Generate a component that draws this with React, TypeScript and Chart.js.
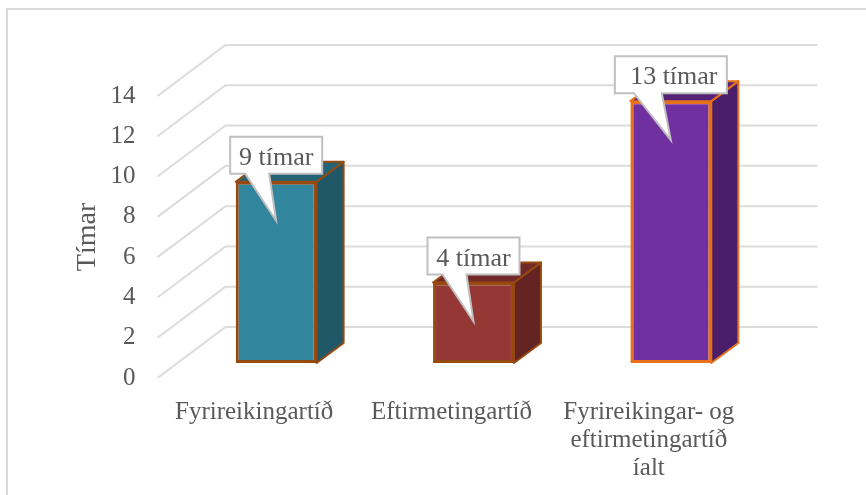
import React, { useEffect, useRef } from "react";
import { Chart, registerables } from "chart.js";

Chart.register(...registerables);

const categories = [
  "Fyrireikingartíð",
  "Eftirmetingartíð",
  ["Fyrireikingar- og", "eftirmetingartíð", "íalt"],
];
const hours = [9, 4, 13];
const calloutLabels = ["9 tímar", "4 tímar", "13 tímar"];
const frontColors = ["#31859C", "#953735", "#7030A0"];
const sideColors = ["#205867", "#632423", "#4A1E6B"];
const topColors = ["#256474", "#722A28", "#552478"];
const edgeColors = ["#974A10", "#974A10", "#E8701A"];
const FONT = "'Liberation Serif', serif";
const TEXT = "#595959";

const floorDepth = { dx: 68, dy: 51 };
const barShift = { dx: 20, dy: 15 };
const barDepth = { dx: 27, dy: 20 };

const scene = {
  id: "scene",
  beforeDraw(chart: any) {
    const { ctx, width, height } = chart;
    ctx.save();
    ctx.fillStyle = "#fff";
    ctx.fillRect(0, 0, width, height);
    ctx.strokeStyle = "#D9D9D9";
    ctx.lineWidth = 2;
    ctx.beginPath();
    ctx.moveTo(7, height);
    ctx.lineTo(7, 9);
    ctx.lineTo(width, 9);
    ctx.stroke();
    ctx.restore();
  },
  beforeDatasetsDraw(chart: any) {
    const { ctx, chartArea, scales } = chart;
    ctx.save();
    ctx.strokeStyle = "#DCDCDC";
    ctx.lineWidth = 2;
    for (const t of scales.y.ticks) {
      const y = scales.y.getPixelForValue(t.value);
      ctx.beginPath();
      ctx.moveTo(chartArea.left, y);
      ctx.lineTo(chartArea.left + floorDepth.dx, y - floorDepth.dy);
      ctx.lineTo(chartArea.right + floorDepth.dx, y - floorDepth.dy);
      ctx.stroke();
    }
    ctx.restore();
    ctx.save();
    ctx.translate(barShift.dx, -barShift.dy);
  },
  afterDatasetsDraw(chart: any) {
    const { ctx } = chart;
    ctx.restore();
    const bars = chart.getDatasetMeta(0).data;
    bars.forEach((bar: any, i: number) => {
      const halfW = bar.width / 2;
      const l = bar.x - halfW + barShift.dx;
      const r = bar.x + halfW + barShift.dx;
      const t = bar.y - barShift.dy;
      const b = bar.base - barShift.dy;
      const dx = barDepth.dx;
      const dy = barDepth.dy;
      ctx.save();
      ctx.lineJoin = "round";
      ctx.lineWidth = 2;
      ctx.strokeStyle = edgeColors[i];
      ctx.fillStyle = sideColors[i];
      ctx.beginPath();
      ctx.moveTo(r, t);
      ctx.lineTo(r + dx, t - dy);
      ctx.lineTo(r + dx, b - dy);
      ctx.lineTo(r, b);
      ctx.closePath();
      ctx.fill();
      ctx.stroke();
      ctx.fillStyle = topColors[i];
      ctx.beginPath();
      ctx.moveTo(l, t);
      ctx.lineTo(l + dx, t - dy);
      ctx.lineTo(r + dx, t - dy);
      ctx.lineTo(r, t);
      ctx.closePath();
      ctx.fill();
      ctx.stroke();
      ctx.restore();
    });
    bars.forEach((bar: any, i: number) => {
      const cx = bar.x + barShift.dx;
      const top = bar.y - barShift.dy;
      const text = calloutLabels[i];
      const wide = text.length > 7;
      const w = wide ? 112 : 92;
      const h = 37;
      const boxL = cx - w / 2;
      const boxT = top - 45;
      const boxB = boxT + h;
      const baseL = boxL + (wide ? 19 : 15);
      const baseR = boxL + (wide ? 47 : 39);
      const tipY = top + 39;
      ctx.save();
      ctx.fillStyle = "#fff";
      ctx.strokeStyle = "#BFBFBF";
      ctx.lineWidth = 2;
      ctx.lineJoin = "miter";
      ctx.beginPath();
      ctx.moveTo(boxL, boxT);
      ctx.lineTo(boxL + w, boxT);
      ctx.lineTo(boxL + w, boxB);
      ctx.lineTo(baseR, boxB);
      ctx.lineTo(cx, tipY);
      ctx.lineTo(baseL, boxB);
      ctx.lineTo(boxL, boxB);
      ctx.closePath();
      ctx.fill();
      ctx.stroke();
      ctx.fillStyle = TEXT;
      ctx.font = `26px ${FONT}`;
      ctx.textAlign = "center";
      ctx.textBaseline = "middle";
      ctx.fillText(text, cx + (wide ? 3 : 0), boxT + h / 2 + 3);
      ctx.restore();
    });
  },
};

export default function App() {
  const ref = useRef<HTMLCanvasElement>(null);
  useEffect(() => {
    const chart = new Chart(ref.current!, {
      type: "bar",
      data: {
        labels: categories as any,
        datasets: [
          {
            label: "Tímar",
            data: hours,
            backgroundColor: frontColors,
            borderColor: edgeColors,
            borderWidth: 3,
            borderSkipped: false,
            barPercentage: 1,
            categoryPercentage: 0.41,
          },
        ],
      },
      options: {
        responsive: false,
        animation: false,
        layout: { padding: { top: 96, right: 116.5, left: 0, bottom: 0 } },
        plugins: { legend: { display: false }, tooltip: { enabled: false } },
        scales: {
          x: {
            grid: { display: false },
            border: { display: false },
            afterFit: (s: any) => { s.height = 117; },
            ticks: {
              color: TEXT,
              font: { family: FONT, size: 25, lineHeight: 1.12 },
              padding: 12,
              labelOffset: -2,
              maxRotation: 0,
              autoSkip: false,
            },
          },
          y: {
            min: 0,
            max: 14,
            afterFit: (s: any) => { s.width = 157.5; },
            grid: { display: false, drawTicks: false },
            border: { display: false },
            ticks: {
              stepSize: 2,
              color: TEXT,
              font: { family: FONT, size: 25 },
              padding: 22,
            },
            title: {
              display: true,
              text: "Tímar",
              color: TEXT,
              font: { family: FONT, size: 28 },
              padding: { top: 71, bottom: 0 },
            },
          },
        },
      },
      plugins: [scene],
    });
    return () => chart.destroy();
  }, []);
  return (
    <canvas
      ref={ref}
      width={866}
      height={495}
      style={{ position: "absolute", left: 0, top: 0, display: "block" }}
    />
  );
}
